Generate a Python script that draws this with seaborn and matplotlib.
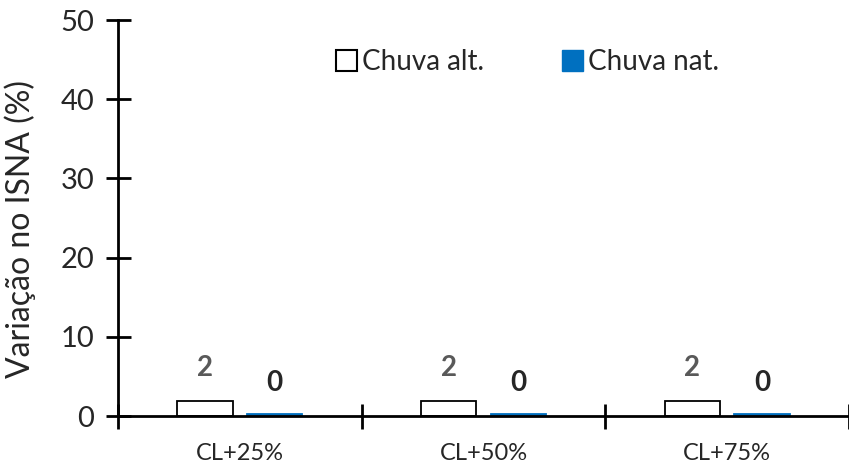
import matplotlib
matplotlib.use("Agg")
import matplotlib.pyplot as plt
import seaborn as sns
import pandas as pd
from matplotlib.patches import Patch

categories = ["CL+25%", "CL+50%", "CL+75%"]
series = ["Chuva alt.", "Chuva nat."]
alt_values = [1.85, 1.85, 1.85]
nat_values = [0.3, 0.3, 0.3]
y_ticks = [0, 10, 20, 30, 40, 50]

sns.set_theme(style="white")
plt.rcParams['font.family'] = ['Lato', 'DejaVu Sans']

df = pd.DataFrame({
    "cat": categories * 2,
    "serie": [series[0]] * 3 + [series[1]] * 3,
    "val": alt_values + nat_values,
})

fig = plt.figure(figsize=(8.49, 4.66), dpi=100)
ax = fig.add_axes([0.139, 0.107, 0.861, 0.850])

sns.barplot(data=df, x="cat", y="val", hue="serie", hue_order=series,
            palette=["white", "#0070C0"], width=0.572, gap=0.21,
            ax=ax, errorbar=None, legend=False)

conts = ax.containers
for p in conts[0]:
    p.set_edgecolor("black")
    p.set_linewidth(1.3)
for p in conts[1]:
    p.set_edgecolor("#0070C0")
    p.set_linewidth(1.3)

ax.bar_label(conts[0], fmt="%.0f", padding=15, color="#595959",
             fontsize=20, fontweight="bold")
ax.bar_label(conts[1], fmt="%.0f", padding=13, color="#262626",
             fontsize=20, fontweight="bold")

ax.set_xlim(-0.5, 2.5)
ax.set_ylim(0, 50)
ax.set_yticks(y_ticks)
ax.set_yticklabels([str(v) for v in y_ticks], fontsize=21, color="#262626")
ax.set_xticks(range(len(categories)))
ax.set_xticklabels(categories, fontsize=17, color="#262626")
ax.set_xticks([-0.5, 0.5, 1.5, 2.5], minor=True)
ax.tick_params(axis="x", which="major", bottom=False, length=0, pad=19)
ax.tick_params(axis="x", which="minor", bottom=True, length=18, width=2,
               direction="inout", color="black")
ax.tick_params(axis="y", which="major", left=True, length=18, width=2,
               direction="inout", color="black", pad=8)

ax.set_xlabel("")
ax.set_ylabel("Variação no ISNA (%)", fontsize=23, color="#262626")
ax.yaxis.set_label_coords(-0.112, 0.472)

for s in ["top", "right"]:
    ax.spines[s].set_visible(False)
for s in ["left", "bottom"]:
    ax.spines[s].set_color("black")
    ax.spines[s].set_linewidth(2)
ax.spines["bottom"].set_zorder(5)

handles = [Patch(facecolor="white", edgecolor="black", linewidth=1.5),
           Patch(facecolor="#0070C0", edgecolor="#0070C0")]
ax.legend(handles, series, loc="center left", bbox_to_anchor=(0.298, 0.894),
          ncol=2, frameon=False, fontsize=20, handlelength=0.75, handleheight=0.75,
          handletextpad=0.2, columnspacing=2.8, borderpad=0, borderaxespad=0,
          labelcolor="#262626")

fig.savefig("out.png", dpi=100)
